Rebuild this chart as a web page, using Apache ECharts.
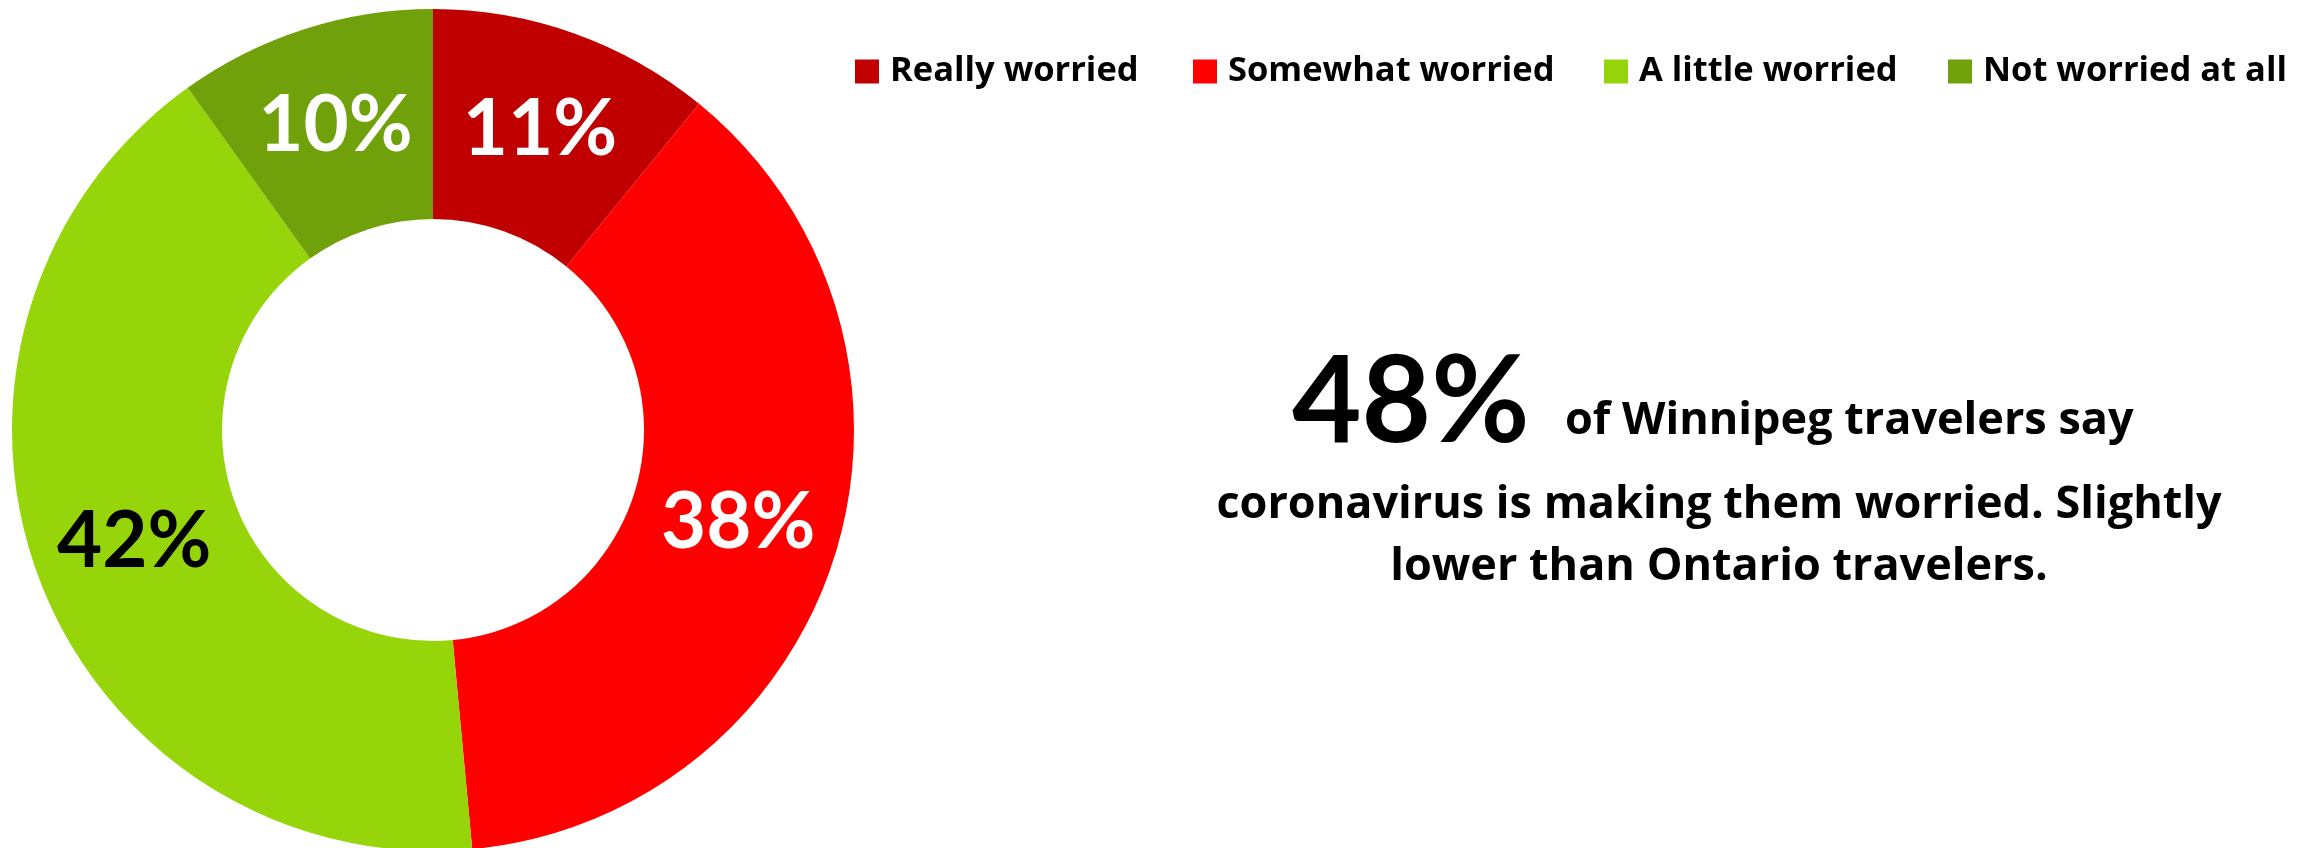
<!DOCTYPE html>
<html>
<head>
<meta charset="utf-8">
<script src="https://cdn.jsdelivr.net/npm/echarts@6/dist/echarts.min.js"></script>
<style>
html,body{margin:0;padding:0;background:#fff;}
#chart{width:2315px;height:848px;}
</style>
</head>
<body>
<div id="chart"></div>
<script>
const categories = ['Really worried', 'Somewhat worried', 'A little worried', 'Not worried at all'];
const values = [11, 38, 42, 10];
const sliceColors = ['#C00000', '#FF0000', '#97D50B', '#70A00A'];
const labelColors = ['#ffffff', '#ffffff', '#000000', '#ffffff'];
const headline = '48%';
const textLines = ['of Winnipeg travelers say', 'coronavirus is making them worried. Slightly', 'lower than Ontario travelers.'];

const FONT = '"Open Sans", Lato, sans-serif';
const LFONT = 'Lato, "Open Sans", sans-serif';
const legendLefts = [850, 1188, 1599, 1943];

const chart = echarts.init(document.getElementById('chart'), null, {renderer: 'canvas'});

const legends = categories.map((c, i) => ({
  data: [c],
  left: legendLefts[i],
  top: 49,
  icon: 'rect',
  itemWidth: 24,
  itemHeight: 24,
  itemGap: 0,
  selectedMode: false,
  textStyle: {fontFamily: FONT, fontWeight: 'bold', fontSize: 34.5, color: '#000', padding: [0, 0, 0, 6]}
}));

chart.setOption({
  backgroundColor: '#ffffff',
  animation: false,
  legend: legends,
  series: [{
    type: 'pie',
    center: [433, 430],
    radius: [211, 421],
    startAngle: 90,
    clockwise: true,
    avoidLabelOverlap: false,
    label: {
      show: true,
      position: 'inside',
      formatter: '{c}%',
      fontFamily: LFONT,
      fontWeight: 'bold',
      fontSize: 78
    },
    labelLine: {show: false},
    emphasis: {disabled: true},
    data: categories.map((c, i) => ({
      name: c,
      value: values[i],
      itemStyle: {color: sliceColors[i], borderWidth: 0},
      label: {color: labelColors[i]}
    }))
  }],
  graphic: [
    {type: 'text', left: 1292, top: 343, style: {text: headline, font: 'bold 120px ' + LFONT, fill: '#000'}},
    {type: 'text', x: 1565, y: 421, style: {text: textLines[0], font: 'bold 45px ' + FONT, fill: '#000', textAlign: 'left', textVerticalAlign: 'middle'}},
    {type: 'text', x: 1719, y: 505, style: {text: textLines[1], font: 'bold 45px ' + FONT, fill: '#000', textAlign: 'center', textVerticalAlign: 'middle'}},
    {type: 'text', x: 1719, y: 567, style: {text: textLines[2], font: 'bold 45px ' + FONT, fill: '#000', textAlign: 'center', textVerticalAlign: 'middle'}}
  ]
});
</script>
</body>
</html>
